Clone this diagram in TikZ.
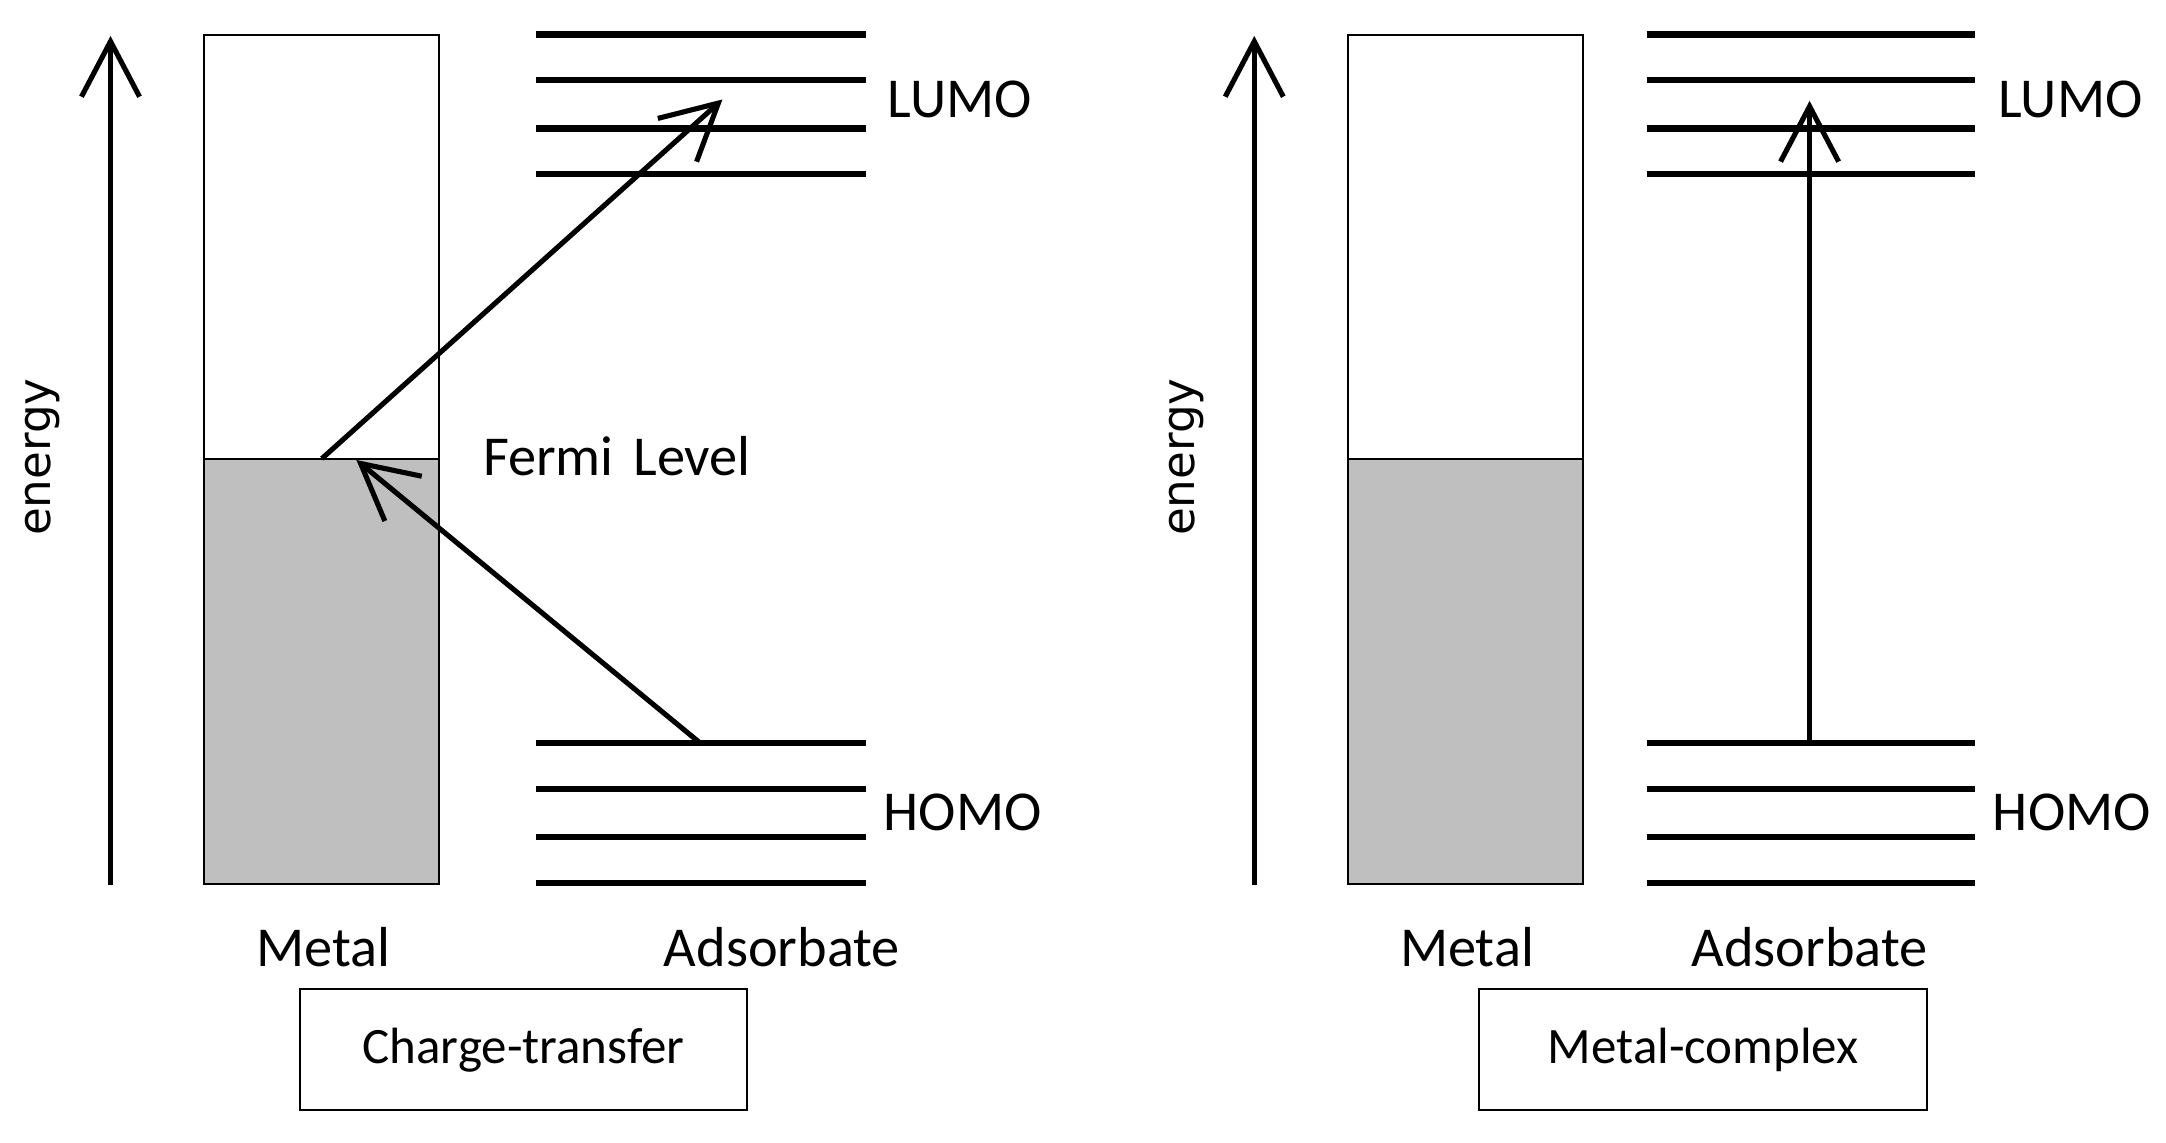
\documentclass[tikz,border=0pt]{standalone}
\usepackage{fontspec}
\setmainfont{Carlito}
\newfontfamily\axisfont{DejaVu Sans}
\usetikzlibrary{arrows.meta}

\definecolor{filled}{HTML}{BFBFBF}

\tikzset{
  axis/.style={line width=1.05pt, -{Straight Barb[length=4mm, width=4.2mm]}},
  transfer/.style={line width=1.05pt, -{Straight Barb[length=4mm, width=4.2mm]}},
  level/.style={line width=1.3pt},
  band/.style={line width=0.4pt},
  lbl/.style={font=\fontsize{11.6}{14}\selectfont, anchor=base west, inner sep=0pt},
  tag/.style={font=\fontsize{11.6}{14}\selectfont, anchor=base, inner sep=0pt},
  caption/.style={draw, line width=0.4pt, inner sep=0pt, minimum width=3.24cm,
    minimum height=0.875cm, font=\fontsize{10.5}{13}\selectfont},
  energylbl/.style={font=\axisfont\fontsize{9.3}{11}\selectfont, rotate=90, inner sep=0pt}
}

\begin{document}
\begin{tikzpicture}[x=0.01cm, y=-0.01cm]

\useasboundingbox (0,0) rectangle (1568,827);

% ---------- Left panel: charge-transfer ----------

% Energy axis
\draw[axis] (80,641) -- (80,26);
\node[energylbl] (energyL) at (31,331) {energy};

% Metal band, filled up to the Fermi level
\fill[filled] (148,332) rectangle (318,640);
\draw[band] (148,25) rectangle (318,640);
\draw[band] (148,332) -- (318,332);

% Adsorbate levels
\foreach \y in {25,58,93,126}
  \draw[level] (388,\y) -- (627,\y);
\foreach \y in {538,571,606,639}
  \draw[level] (388,\y) -- (627,\y);

% Labels
\node[lbl] (lumoL) at (642,85) {LUMO};
\node[lbl] (homoL) at (639,601) {HOMO};
\node[lbl] (fermi) at (349,344) {Fermi\hspace{0.35em}Level};
\node[tag] (metalL) at (234,700) {Metal};
\node[tag] (adsL) at (566,700) {Adsorbate};
\node[caption] (ct) at (379,760) {Charge-transfer};

% Transfer arrows
\coordinate (efL) at (233,332);
\coordinate (lumoT) at (523,72);
\coordinate (homoT) at (507,538);
\coordinate (efT) at (258,333);
\draw[transfer] (efL) -- (lumoT);
\draw[transfer] (homoT) -- (efT);

% ---------- Right panel: metal-complex ----------

% Energy axis
\draw[axis] (908,641) -- (908,26);
\node[energylbl] (energyR) at (859,331) {energy};

% Metal band
\fill[filled] (976,332) rectangle (1146,640);
\draw[band] (976,25) rectangle (1146,640);
\draw[band] (976,332) -- (1146,332);

% Adsorbate levels
\foreach \y in {25,58,93,126}
  \draw[level] (1192,\y) -- (1430,\y);
\foreach \y in {538,571,606,639}
  \draw[level] (1192,\y) -- (1430,\y);

% Labels
\node[lbl] (lumoR) at (1446,85) {LUMO};
\node[lbl] (homoR) at (1442,601) {HOMO};
\node[tag] (metalR) at (1062,700) {Metal};
\node[tag] (adsR) at (1310,700) {Adsorbate};
\node[caption] (mc) at (1233,760) {Metal-complex};

% HOMO to LUMO excitation
\coordinate (homoV) at (1310,538);
\coordinate (lumoV) at (1310,73);
\draw[transfer] (homoV) -- (lumoV);

\end{tikzpicture}
\end{document}
